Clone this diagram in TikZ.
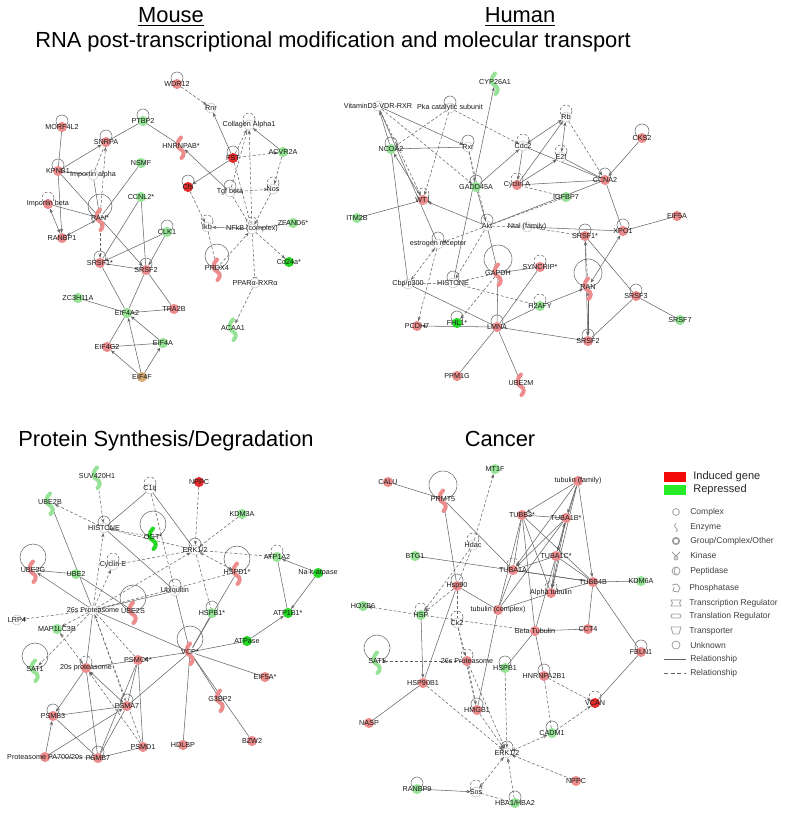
\documentclass[tikz,border=0pt]{standalone}
\usepackage{fontspec}
\setmainfont{Liberation Sans}
\usetikzlibrary{arrows.meta,calc,backgrounds}
\definecolor{lr}{RGB}{236,140,140}
\definecolor{br}{RGB}{230,45,45}
\definecolor{lg}{RGB}{150,226,150}
\definecolor{bg}{RGB}{35,215,35}
\definecolor{ntan}{RGB}{214,168,118}
\definecolor{egray}{RGB}{100,100,100}
\definecolor{legred}{RGB}{245,10,10}
\definecolor{leggreen}{RGB}{40,235,40}
\definecolor{icong}{RGB}{160,160,160}
\tikzset{
  gnode/.style={circle,minimum size=7.6pt,inner sep=0pt,outer sep=0pt},
  cxnode/.style={gnode,fill=white,draw=gray!55,line width=0.3pt},
  lbl/.style={font=\fontsize{5.4}{6}\selectfont,inner sep=0pt,text=black!90},
  ttl/.style={font=\fontsize{16.4}{18}\selectfont,inner sep=0pt},
  legtxt/.style={font=\fontsize{6.4}{7}\selectfont,inner sep=0pt,text=black!75,anchor=west},
  legbig/.style={font=\fontsize{8.3}{9}\selectfont,inner sep=0pt,text=black!85,anchor=west},
  edg/.style={draw=egray,line width=0.4pt},
  lnS/.style={edg},
  lnSA/.style={edg,-{Stealth[length=3.2pt,width=2.4pt]}},
  lnSB/.style={edg,{Stealth[length=3.2pt,width=2.4pt]}-{Stealth[length=3.2pt,width=2.4pt]}},
  lnD/.style={edg,dash pattern=on 2.2pt off 1.5pt},
  lnDA/.style={lnD,-{Stealth[length=3.2pt,width=2.4pt]}},
  lnDB/.style={lnD,{Stealth[length=3.2pt,width=2.4pt]}-{Stealth[length=3.2pt,width=2.4pt]}},
  lnDT/.style={lnD,-{Bar[width=3.5pt]}},
  lpS/.style={draw=egray,line width=0.4pt},
  lpD/.style={lpS,dash pattern=on 2.2pt off 1.5pt},
  pics/enz/.style={code={\draw[line width=3pt,line cap=round,#1] (0,-8.5) .. controls (-4.5,-4.5) and (-4.5,2) .. (0,3.5) .. controls (3.5,5) and (3.5,9.5) .. (0.5,12);}},
}
\newcommand{\gn}[4]{\node[gnode,fill=#3,label={[lbl]center:#4}] (#1) at (#2) {};}
\newcommand{\en}[4]{\pic at (#2) {enz=#3}; \node[gnode,label={[lbl]center:#4}] (#1) at (#2) {};}
\newcommand{\cx}[3]{\node[cxnode,label={[lbl]center:#3}] (#1) at (#2) {};}
\newcommand{\E}[3]{\draw[#1] (#2) -- (#3);}
\newcommand{\myloop}[3][lpS]{\draw[#1] ($(#2)+(0,-#3)$) circle[radius=#3*0.75pt];}
\begin{document}
\begin{tikzpicture}[x=0.75pt,y=-0.75pt]
\useasboundingbox (0,0) rectangle (800,817);
% titles
\node[ttl,anchor=base] (tMouse) at (171,23) {\underline{Mouse}};
\node[ttl,anchor=base] (tHuman) at (520,23) {\underline{Human}};
\node[ttl,anchor=base west] (tRNA) at (35,48) {RNA post-transcriptional modification and molecular transport};
\node[ttl,anchor=base west] (tProt) at (18,446) {Protein Synthesis/Degradation};
\node[ttl,anchor=base] (tCanc) at (500,446) {Cancer};

% ================= MOUSE =================
\gn{mWDR}{177,84}{lr}{WDR12}
\cx{mRnr}{211,108}{Rnr}
\cx{mCol}{249,125}{Collagen Alpha1}
\gn{mPTB}{143,121}{lg}{PTBP2}
\gn{mMOR}{62,127}{lr}{MORF4L2}
\gn{mSNR}{106,142}{lr}{SNRPA}
\en{mHNR}{181,146}{lr}{HNRNPAB*}
\gn{mFST}{233,158}{br}{FST}
\gn{mACV}{283,152}{lg}{ACVR2A}
\gn{mNSM}{141,163}{lg}{NSMF}
\gn{mKPN}{58,171}{lr}{KPNB1}
\cx{mImA}{93,175}{Importin alpha}
\gn{mCfs}{188,187}{br}{Cfs}
\cx{mTgf}{230,192}{Tgf beta}
\cx{mNos}{273,189}{Nos}
\gn{mCCN}{141,197}{lg}{CCNL2*}
\gn{mImB}{48,204}{lr}{Importin beta}
\en{mRAN}{100,218}{lr}{RAN*}
\gn{mRBP}{62,238}{lr}{RANBP1}
\gn{mCLK}{167,232}{lg}{CLK1}
\cx{mIkb}{207,227}{Ikb}
\cx{mNFk}{252,229}{NFkB (complex)}
\gn{mZFA}{293,223}{lg}{ZFAND6*}
\gn{mSR1}{100,263}{lr}{SRSF1*}
\gn{mSR2}{146,270}{lr}{SRSF2}
\en{mPRD}{217,268}{lr}{PRDX4}
\gn{mCD24}{289,262}{bg}{Cd24a*}
\cx{mPPA}{255,283}{PPARα-RXRα}
\gn{mZC3}{78,298}{lg}{ZC3H11A}
\gn{mE4A2}{127,313}{lg}{EIF4A2}
\gn{mTRA}{174,309}{lr}{TRA2B}
\en{mACA}{233,328}{lg}{ACAA1}
\gn{mE4G}{107,347}{lr}{EIF4G2}
\gn{mE4A}{163,343}{lg}{EIF4A}
\gn{mE4F}{142,377}{ntan}{EIF4F}

% ================= HUMAN =================
\en{hCYP}{495,82}{lg}{CYP26A1}
\cx{hVit}{378,106}{VitaminD3-VDR-RXR}
\cx{hPka}{450,108}{Pka catalytic subunit}
\cx{hRb}{566,117}{Rb}
\gn{hCKS}{642,138}{lr}{CKS2}
\gn{hNCO}{391,149}{lg}{NCOA2}
\cx{hRxr}{468,147}{Rxr}
\cx{hCdc}{523,146}{Cdc2}
\cx{hE2f}{561,157}{E2f}
\gn{hGAD}{476,187}{lg}{GADD45A}
\gn{hCyA}{517,185}{lr}{Cyclin A}
\gn{hCCN}{605,180}{lr}{CCNA2}
\gn{hIGF}{566,197}{lg}{IGFBP7}
\gn{hWT1}{423,200}{lr}{WT1}
\gn{hITM}{357,218}{lg}{ITM2B}
\gn{hEIF}{677,216}{lr}{EIF5A}
\cx{hAkt}{487,226}{Akt}
\cx{hNtl}{527,227}{Ntal (family)}
\gn{hXPO}{623,231}{lr}{XPO1}
\gn{hSR1}{585,236}{lr}{SRSF1*}
\cx{hEst}{438,244}{estrogen receptor}
\en{hGAP}{498,273}{lr}{GAPDH}
\gn{hSYN}{540,267}{lr}{SYNCRIP*}
\en{hRAN}{588,287}{lr}{RAN}
\cx{hCbp}{408,284}{Cbp/p300}
\cx{hHIS}{453,283}{HISTONE}
\gn{hSR3}{636,296}{lr}{SRSF3}
\gn{hH2A}{540,306}{lg}{H2AFY}
\gn{hSR7}{680,320}{lg}{SRSF7}
\gn{hPCD}{417,326}{lr}{PCDH7}
\gn{hFHL}{457,323}{bg}{FHL1*}
\gn{hLMN}{497,327}{lr}{LMNA}
\gn{hSR2}{588,341}{lr}{SRSF2}
\gn{hPPM}{457,376}{lr}{PPM1G}
\en{hUBE}{521,383}{lr}{UBE2M}

% ================= PROTEIN =================
\en{pSUV}{97,476}{lg}{SUV420H1}
\cx{pC1q}{150,489}{C1q}
\gn{pNPP}{199,482}{br}{NPPC}
\en{pUB2B}{50,502}{lg}{UBE2B}
\gn{pKDM}{242,514}{lg}{KDM3A}
\cx{pHIS}{104,528}{HISTONE}
\en{pOGT}{153,537}{bg}{OGT*}
\cx{pERK}{195,550}{ERK1/2}
\en{pHSD}{237,572}{lr}{HSPD1*}
\gn{pATA}{277,557}{lg}{ATP1A2}
\gn{pNaK}{318,573}{bg}{Na-k-atpase}
\en{pUB2G}{33,570}{lr}{UBE2G}
\gn{pUB2}{76,574}{lg}{UBE2}
\cx{pCyE}{113,565}{Cyclin E}
\cx{pUbi}{175,591}{Ubiquitin}
\gn{pHSB}{212,613}{lg}{HSPB1*}
\gn{pATB}{288,613}{bg}{ATP1B1*}
\cx{p26s}{93,610}{26s Proteasome}
\en{pUB2S}{133,611}{lr}{UBE2S}
\cx{pLRP}{17,620}{LRP4}
\gn{pMAP}{57,629}{lg}{MAP1LC3B}
\gn{pATP}{247,641}{bg}{ATPase}
\en{pSAT}{35,669}{lg}{SAT1}
\gn{p20s}{86,668}{lr}{20s proteasome}
\gn{pPSC}{138,660}{lr}{PSMC4*}
\en{pVCP}{190,652}{lr}{VCP*}
\gn{pEIF}{265,677}{lr}{EIF5A*}
\en{pG3B}{220,699}{lr}{G3BP2}
\gn{pPA7}{127,706}{lr}{PSMA7}
\gn{pPB3}{53,716}{lr}{PSMB3}
\gn{pBZW}{252,741}{lr}{BZW2}
\gn{pHDL}{183,745}{lr}{HDLBP}
\gn{pPD1}{143,747}{lr}{PSMD1}
\gn{pPA700}{45,757}{lr}{Proteasome PA700/20s}
\gn{pPB7}{98,758}{lr}{PSMB7}

% ================= CANCER =================
\gn{cCAL}{388,482}{lr}{CALU}
\gn{cMT1}{495,469}{lg}{MT1F}
\en{cPRM}{443,499}{lr}{PRMT5}
\gn{cTF}{578,481}{lr}{tubulin (family)}
\gn{cTB3}{522,515}{lr}{TUBB3*}
\gn{cT1B}{566,518}{lr}{TUBA1B*}
\cx{cHda}{473,545}{Hdac}
\gn{cBTG}{415,556}{lg}{BTG1}
\gn{cT1C}{556,556}{lr}{TUBA1C*}
\gn{cT1A}{513,570}{lr}{TUBA1A}
\gn{cTB4}{593,582}{lr}{TUBB4B}
\gn{cKDM}{641,581}{lg}{KDM6A}
\gn{cH90}{457,586}{lr}{Hsp90}
\gn{cAT}{551,593}{lr}{Alpha tubulin}
\gn{cHSP}{421,615}{lg}{HSP}
\gn{cHOX}{363,606}{lg}{HOXB6}
\gn{cTC}{498,610}{lr}{tubulin (complex)}
\cx{cCk2}{457,623}{Ck2}
\gn{cBT}{535,631}{lr}{Beta Tubulin}
\gn{cCCT}{588,629}{lr}{CCT4}
\en{cSAT}{377,661}{lg}{SAT1}
\gn{cFBL}{641,652}{lr}{FBLN1}
\gn{c26s}{467,661}{lr}{26s Proteasome}
\gn{cHB1}{505,668}{lg}{HSPB1}
\gn{cHNR}{544,676}{lr}{HNRNPA2B1}
\gn{cH9B}{423,683}{lr}{HSP90B1}
\gn{cVCA}{595,703}{br}{VCAN}
\gn{cHMG}{477,710}{lr}{HMGB1}
\gn{cNAS}{369,723}{lr}{NASP}
\gn{cCAD}{552,733}{lg}{CADM1}
\cx{cERK}{507,753}{ERK1/2}
\gn{cNPP}{576,781}{lr}{NPPC}
\gn{cRAN}{417,789}{lg}{RANBP9}
\cx{cSos}{476,792}{Sos}
\gn{cHBA}{515,803}{lg}{HBA1/HBA2}

% ================= LEGEND =================
\node[fill=legred,minimum width=16.5pt,minimum height=6.8pt,inner sep=0pt] (lgRed) at (675,477) {};
\node[legbig] (lgRedT) at (693,477) {Induced gene};
\node[fill=leggreen,minimum width=16.5pt,minimum height=6.8pt,inner sep=0pt] (lgGrn) at (675,490) {};
\node[legbig] (lgGrnT) at (693,490) {Repressed};
\draw[icong,line width=0.6pt] (676,512) circle[radius=2.6pt];
\node[legtxt] (lt1) at (690,512) {Complex};
\draw[icong,line width=0.6pt] (676,523) .. controls (674,525) and (674,527) .. (676,528) .. controls (678,529) and (678,531) .. (676,532);
\node[legtxt] (lt2) at (690,527) {Enzyme};
\draw[icong,line width=1.3pt] (676,541) circle[radius=2.4pt];
\node[legtxt] (lt3) at (690,541) {Group/Complex/Other};
\draw[icong,line width=0.6pt] (672,552) -- (676,556) -- (680,552) (676,556) -- (676,559);
\draw[icong,line width=0.6pt] (676,558) circle[radius=1.5pt];
\node[legtxt] (lt4) at (690,555) {Kinase};
\draw[icong,line width=0.6pt] (676,571) circle[radius=3pt];
\draw[icong,line width=0.6pt] (678,567) arc[start angle=90,end angle=270,radius=3pt];
\node[legtxt] (lt5) at (690,571) {Peptidase};
\draw[icong,line width=0.6pt] (672,585) -- (677,584) -- (680,588) -- (678,592) -- (673,591) -- (674,587);
\node[legtxt] (lt6) at (689,588) {Phosphatase};
\draw[icong,line width=0.6pt] (671,600) -- (681,600) .. controls (679,602) and (679,604) .. (681,606) -- (671,606) .. controls (673,604) and (673,602) .. (671,600);
\node[legtxt] (lt7) at (689,603) {Transcription Regulator};
\draw[icong,line width=0.6pt,rounded corners=1.5pt] (671,614) rectangle (681,618);
\node[legtxt] (lt8) at (689,616) {Translation Regulator};
\draw[icong,line width=0.6pt] (671,627) -- (681,627) -- (679,634) -- (673,634) -- cycle;
\node[legtxt] (lt9) at (689,631) {Transporter};
\draw[icong,line width=0.6pt] (676,645) circle[radius=3pt];
\node[legtxt] (lt10) at (690,645) {Unknown};
\coordinate (ls1) at (664,659); \coordinate (ls2) at (686,659);
\draw[egray,line width=0.6pt] (ls1) -- (ls2);
\node[legtxt] (lt11) at (690,659) {Relationship};
\coordinate (ld1) at (664,673); \coordinate (ld2) at (686,673);
\draw[egray,line width=0.6pt,dash pattern=on 3pt off 2pt] (ld1) -- (ld2);
\node[legtxt] (lt12) at (690,673) {Relationship};

\begin{pgfonlayer}{background}
% ---- mouse loops
\myloop{mWDR}{6} \myloop[lpD]{mCol}{6} \myloop{mPTB}{6} \myloop{mMOR}{6}
\myloop{mSNR}{6} \myloop{mFST}{6} \myloop{mKPN}{6} \myloop{mCfs}{6}
\myloop{mTgf}{6} \myloop[lpD]{mNos}{6} \myloop[lpD]{mImB}{6} \myloop{mRAN}{12}
\myloop{mCLK}{6} \myloop[lpD]{mIkb}{6} \myloop[lpD]{mNFk}{6} \myloop{mSR1}{6}
\myloop{mSR2}{6} \myloop{mPRD}{12}
% ---- mouse edges
\E{lnDA}{mWDR}{mRnr}
\E{lnSA}{mFST}{mRnr}
\E{lnDA}{mFST}{mCol}
\E{lnDA}{mNFk}{mCol}
\E{lnD}{mTgf}{mCol}
\E{lnSA}{mACV}{mCol}
\E{lnDA}{mFST}{mACV}
\E{lnDA}{mACV}{mNos}
\E{lnSA}{mFST}{mCfs}
\E{lnD}{mFST}{mNFk}
\E{lnDA}{mTgf}{mNos}
\E{lnD}{mTgf}{mNFk}
\E{lnSA}{mTgf}{mHNR}
\E{lnS}{mPTB}{mSNR}
\E{lnS}{mPTB}{mHNR}
\E{lnS}{mMOR}{mKPN}
\E{lnSA}{mKPN}{mSNR}
\E{lnS}{mKPN}{mImA}
\E{lnSA}{mKPN}{mRBP}
\E{lnS}{mKPN}{mRAN}
\E{lnS}{mNSM}{mRAN}
\E{lnSB}{mImB}{mRBP}
\E{lnS}{mImB}{mRAN}
\E{lnSB}{mRBP}{mRAN}
\E{lnDA}{mRAN}{mSNR}
\E{lnD}{mImA}{mSNR}
\E{lnS}{mImA}{mRAN}
\E{lnDA}{mRAN}{mSR1}
\E{lnSA}{mRAN}{mSR2}
\E{lnS}{mCCN}{mSR1}
\E{lnS}{mCCN}{mSR2}
\E{lnSA}{mCLK}{mSR1}
\E{lnSA}{mCLK}{mSR2}
\E{lnS}{mSR1}{mSR2}
\E{lnS}{mSR1}{mE4A2}
\E{lnS}{mSR2}{mE4A2}
\E{lnS}{mSR2}{mTRA}
\E{lnS}{mZC3}{mE4A2}
\E{lnS}{mE4A2}{mTRA}
\E{lnS}{mE4G}{mE4A2}
\E{lnSA}{mE4A}{mE4A2}
\E{lnS}{mE4G}{mE4A}
\E{lnSA}{mE4F}{mE4G}
\E{lnSA}{mE4F}{mE4A}
\E{lnSA}{mE4F}{mE4A2}
\E{lnDA}{mCfs}{mIkb}
\E{lnSA}{mNFk}{mIkb}
\E{lnD}{mIkb}{mPRD}
\E{lnDA}{mPRD}{mNFk}
\E{lnDA}{mNFk}{mCD24}
\E{lnS}{mZFA}{mNFk}
\E{lnDT}{mNFk}{mPPA}
\E{lnDA}{mPPA}{mACA}
\E{lnDA}{mNos}{mNFk}
% ---- human loops
\myloop{hPka}{6} \myloop[lpD]{hRb}{6} \myloop{hCKS}{7} \myloop{hNCO}{6}
\myloop{hRxr}{6} \myloop[lpD]{hCdc}{6} \myloop[lpD]{hE2f}{6} \myloop{hGAD}{6}
\myloop[lpD]{hCyA}{6} \myloop{hCCN}{6} \myloop[lpD]{hWT1}{6} \myloop{hAkt}{6}
\myloop{hXPO}{6} \myloop{hSR1}{6} \myloop{hEst}{6} \myloop{hGAP}{14}
\myloop[lpD]{hSYN}{6} \myloop{hRAN}{14} \myloop{hHIS}{6} \myloop{hSR3}{6}
\myloop[lpD]{hH2A}{6} \myloop{hFHL}{6} \myloop{hLMN}{6} \myloop{hSR2}{6}
% ---- human edges
\E{lnSA}{hNCO}{hVit}
\E{lnDA}{hVit}{hWT1}
\E{lnSA}{hVit}{hRxr}
\E{lnDA}{hVit}{hGAD}
\E{lnS}{hVit}{hEst}
\E{lnDA}{hPka}{hNCO}
\E{lnDA}{hPka}{hCdc}
\E{lnDA}{hPka}{hWT1}
\E{lnSA}{hHIS}{hCYP}
\E{lnS}{hNCO}{hRxr}
\E{lnSA}{hWT1}{hNCO}
\E{lnS}{hNCO}{hCbp}
\E{lnDA}{hRxr}{hGAD}
\E{lnDA}{hRxr}{hAkt}
\E{lnSA}{hGAD}{hCdc}
\E{lnS}{hGAD}{hAkt}
\E{lnSA}{hCdc}{hCyA}
\E{lnSB}{hCdc}{hRb}
\E{lnS}{hCdc}{hCCN}
\E{lnSB}{hRb}{hE2f}
\E{lnDA}{hRb}{hCCN}
\E{lnS}{hE2f}{hCCN}
\E{lnSA}{hCyA}{hRb}
\E{lnSA}{hCyA}{hE2f}
\E{lnSA}{hCKS}{hCCN}
\E{lnS}{hCCN}{hCyA}
\E{lnS}{hCCN}{hXPO}
\E{lnS}{hCCN}{hAkt}
\E{lnD}{hIGF}{hAkt}
\E{lnD}{hIGF}{hCyA}
\E{lnS}{hWT1}{hITM}
\E{lnSA}{hAkt}{hWT1}
\E{lnSA}{hAkt}{hGAP}
\E{lnDA}{hAkt}{hEst}
\E{lnDA}{hAkt}{hHIS}
\E{lnD}{hAkt}{hNtl}
\E{lnS}{hXPO}{hEIF}
\E{lnSB}{hXPO}{hRAN}
\E{lnS}{hNtl}{hXPO}
\E{lnD}{hNtl}{hSR1}
\E{lnS}{hSR1}{hSR3}
\E{lnDB}{hSR1}{hRAN}
\E{lnSA}{hSR1}{hSR2}
\E{lnS}{hSYN}{hGAP}
\E{lnS}{hSYN}{hLMN}
\E{lnS}{hGAP}{hLMN}
\E{lnD}{hGAP}{hHIS}
\E{lnDA}{hGAP}{hFHL}
\E{lnDB}{hEst}{hCbp}
\E{lnDA}{hEst}{hPCD}
\E{lnD}{hCbp}{hHIS}
\E{lnS}{hCbp}{hLMN}
\E{lnD}{hHIS}{hH2A}
\E{lnSA}{hH2A}{hRAN}
\E{lnS}{hH2A}{hLMN}
\E{lnS}{hLMN}{hSR2}
\E{lnS}{hLMN}{hPPM}
\E{lnS}{hLMN}{hUBE}
\E{lnSA}{hLMN}{hPCD}
\E{lnSB}{hRAN}{hSR2}
\E{lnS}{hSR3}{hSR2}
\E{lnS}{hSR3}{hSR7}
% ---- protein loops
\myloop[lpD]{pC1q}{6} \myloop{pHIS}{6} \myloop{pOGT}{13} \myloop{pERK}{6}
\myloop{pHSD}{13} \myloop[lpD]{pATA}{6} \myloop{pUB2G}{13} \myloop[lpD]{pCyE}{6}
\myloop{pUbi}{6} \myloop{pHSB}{6} \myloop{pUB2S}{13} \myloop{pSAT}{13}
\myloop[lpD]{p20s}{6} \myloop{pVCP}{13} \myloop{pPA7}{6} \myloop{pPB3}{6}
\myloop{pPB7}{6}
% ---- protein edges
\E{lnDA}{pSUV}{pHIS}
\E{lnDA}{pHIS}{pUB2B}
\E{lnS}{pC1q}{pHIS}
\E{lnS}{pC1q}{pERK}
\E{lnD}{pC1q}{pUbi}
\E{lnDA}{pNPP}{pERK}
\E{lnDA}{pKDM}{pERK}
\E{lnDA}{pOGT}{pHIS}
\E{lnD}{pHIS}{pERK}
\E{lnS}{pHIS}{pUbi}
\E{lnDB}{pERK}{pHSD}
\E{lnDA}{pERK}{pATA}
\E{lnDA}{p26s}{pERK}
\E{lnD}{pCyE}{pERK}
\E{lnD}{pERK}{pHSB}
\E{lnSA}{p26s}{pUB2B}
\E{lnSA}{pNaK}{pATA}
\E{lnSA}{pNaK}{pATB}
\E{lnS}{pATA}{pATB}
\E{lnSA}{pATP}{pATB}
\E{lnS}{pATP}{pVCP}
\E{lnSA}{p26s}{pUB2G}
\E{lnS}{pUB2G}{pUB2}
\E{lnS}{pUB2}{pUB2S}
\E{lnDA}{p26s}{pLRP}
\E{lnDA}{p26s}{pMAP}
\E{lnDA}{p26s}{pSAT}
\E{lnS}{p26s}{p20s}
\E{lnD}{p26s}{pPSC}
\E{lnDA}{pPA7}{p26s}
\E{lnD}{pPD1}{p26s}
\E{lnS}{p26s}{pVCP}
\E{lnDA}{p26s}{pHIS}
\E{lnDA}{p26s}{pCyE}
\E{lnS}{p26s}{pUbi}
\E{lnD}{p26s}{pHSD}
\E{lnDB}{pMAP}{p20s}
\E{lnS}{pVCP}{pHSB}
\E{lnSA}{pVCP}{pPSC}
\E{lnS}{pVCP}{pPA7}
\E{lnS}{pVCP}{pEIF}
\E{lnS}{pVCP}{pG3B}
\E{lnS}{pVCP}{pHDL}
\E{lnS}{pVCP}{pBZW}
\E{lnS}{pVCP}{pHSD}
\E{lnS}{pVCP}{pUbi}
\E{lnS}{p20s}{pPSC}
\E{lnSA}{p20s}{pPB3}
\E{lnS}{p20s}{pPB7}
\E{lnSB}{p20s}{pPA7}
\E{lnDA}{pPD1}{p20s}
\E{lnS}{pPSC}{pPA7}
\E{lnS}{pPSC}{pPD1}
\E{lnS}{pPSC}{pPB7}
\E{lnS}{pPA7}{pPB3}
\E{lnS}{pPA7}{pPB7}
\E{lnSA}{pPA700}{pPA7}
\E{lnS}{pPB3}{pPB7}
\E{lnSA}{pPA700}{pPB3}
\E{lnDA}{pPA700}{pPB7}
\E{lnS}{pPB7}{pPD1}
% ---- cancer loops
\myloop{cPRM}{14} \myloop[lpD]{cHda}{6} \myloop[lpD]{cT1A}{6} \myloop{cH90}{6}
\myloop[lpD]{cAT}{6} \myloop[lpD]{cHSP}{6} \myloop[lpD]{cCk2}{6} \myloop{cSAT}{13}
\myloop{cFBL}{6} \myloop[lpD]{c26s}{6} \myloop{cHB1}{6} \myloop{cHNR}{6}
\myloop[lpD]{cVCA}{6} \myloop{cHMG}{6} \myloop{cCAD}{6} \myloop{cERK}{6}
\myloop{cRAN}{6} \myloop[lpD]{cSos}{6} \myloop{cHBA}{6}
% ---- cancer edges
\E{lnS}{cCAL}{cPRM}
\E{lnS}{cPRM}{cT1A}
\E{lnS}{cPRM}{cH90}
\E{lnDA}{cHda}{cMT1}
\E{lnDA}{cHda}{cHSP}
\E{lnD}{cHda}{cH90}
\E{lnS}{cBTG}{cTB4}
\E{lnSA}{cTF}{cTB3}
\E{lnSA}{cTF}{cT1B}
\E{lnSA}{cTF}{cT1C}
\E{lnSA}{cTF}{cT1A}
\E{lnSA}{cTF}{cTB4}
\E{lnSA}{cTF}{cAT}
\E{lnS}{cTB3}{cT1B}
\E{lnS}{cTB3}{cT1A}
\E{lnS}{cTB3}{cTC}
\E{lnS}{cTB3}{cBT}
\E{lnS}{cTB3}{cTB4}
\E{lnS}{cTB3}{cAT}
\E{lnSA}{cT1B}{cT1A}
\E{lnSB}{cT1B}{cT1C}
\E{lnS}{cT1B}{cAT}
\E{lnS}{cT1B}{cTC}
\E{lnS}{cT1C}{cT1A}
\E{lnS}{cT1C}{cTB4}
\E{lnSA}{cT1C}{cAT}
\E{lnS}{cT1C}{cBT}
\E{lnS}{cT1A}{cTB4}
\E{lnS}{cTB4}{cKDM}
\E{lnS}{cTB4}{cFBL}
\E{lnS}{cTB4}{cAT}
\E{lnS}{cTB4}{cCCT}
\E{lnDA}{cH90}{cHSP}
\E{lnS}{cH90}{cTC}
\E{lnD}{cH90}{cCk2}
\E{lnS}{cH90}{cH9B}
\E{lnDA}{cHSP}{cHOX}
\E{lnD}{cHSP}{cBT}
\E{lnSA}{cHSP}{cH9B}
\E{lnS}{cNAS}{cH9B}
\E{lnS}{cTC}{cAT}
\E{lnS}{cTC}{cT1A}
\E{lnDA}{cCk2}{c26s}
\E{lnD}{cCk2}{cHMG}
\E{lnS}{cBT}{cCCT}
\E{lnS}{cBT}{cHB1}
\E{lnS}{cBT}{cHNR}
\E{lnS}{cTC}{cHMG}
\E{lnDA}{c26s}{cHMG}
\E{lnDA}{c26s}{cERK}
\E{lnDA}{c26s}{cSAT}
\E{lnDA}{cHNR}{cVCA}
\E{lnD}{cHNR}{cCAD}
\E{lnS}{cFBL}{cVCA}
\E{lnDA}{cH9B}{cERK}
\E{lnDA}{cHMG}{cERK}
\E{lnDA}{cHB1}{cERK}
\E{lnDB}{cERK}{cCAD}
\E{lnDA}{cCAD}{cVCA}
\E{lnDB}{cERK}{cSos}
\E{lnDA}{cNPP}{cERK}
\E{lnDA}{cHBA}{cERK}
\E{lnSA}{cRAN}{cSos}
\E{lnD}{cSos}{cHBA}
\end{pgfonlayer}
\end{tikzpicture}
\end{document}
